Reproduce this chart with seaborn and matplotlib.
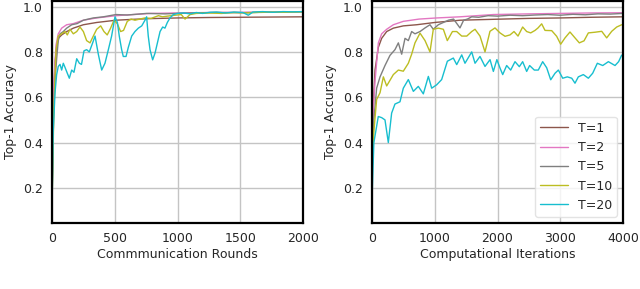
import numpy as np
import pandas as pd
import matplotlib
matplotlib.use("Agg")
import matplotlib.pyplot as plt
import seaborn as sns

# ---------------- data ----------------
labels = ["T=1", "T=2", "T=5", "T=10", "T=20"]
colors = ["#8c564b", "#e377c2", "#7f7f7f", "#bcbd22", "#17becf"]

# Left panel: communication rounds
rounds_T1 = [0, 10, 25, 37, 50, 77, 117, 170, 250, 356, 510, 650, 781, 1000, 1250, 1500, 1750, 2000]
accr_T1 = [0.12, 0.55, 0.76, 0.82, 0.86, 0.875, 0.89, 0.905, 0.92, 0.93, 0.94, 0.944, 0.947, 0.95, 0.952, 0.953, 0.954, 0.955]

rounds_T2 = [0, 8, 16, 32, 50, 77, 117, 170, 250, 356, 510, 650, 781, 1000, 1250, 1500, 1750, 2000]
accr_T2 = [0.15, 0.45, 0.68, 0.83, 0.88, 0.905, 0.92, 0.925, 0.94, 0.95, 0.96, 0.965, 0.97, 0.972, 0.974, 0.975, 0.976, 0.977]

rounds_T5 = [0, 12, 25, 37, 50, 64, 90, 117, 157, 200, 250, 329, 409, 510, 600, 754, 900, 1100, 1300, 1500, 1700, 2000]
accr_T5 = [0.13, 0.5, 0.68, 0.77, 0.85, 0.88, 0.89, 0.905, 0.92, 0.925, 0.94, 0.95, 0.955, 0.965, 0.963, 0.97, 0.968, 0.972, 0.974, 0.973, 0.975, 0.977]

rounds_T10 = [0, 15, 32, 50, 77, 104, 122, 143, 170, 197, 223, 250, 276, 303, 329, 356, 388, 414, 440, 467,
              494, 520, 547, 570, 600, 630, 661, 700, 740, 790, 848, 880, 920, 980, 1030, 1060, 1100, 1150,
              1250, 1350, 1450, 1550, 1650, 1750, 1850, 2000]
accr_T10 = [0.12, 0.55, 0.81, 0.87, 0.88, 0.89, 0.875, 0.90, 0.88, 0.89, 0.91, 0.89, 0.85, 0.84, 0.87, 0.90,
            0.915, 0.89, 0.875, 0.905, 0.94, 0.925, 0.89, 0.895, 0.935, 0.945, 0.94, 0.945, 0.95, 0.948, 0.96,
            0.955, 0.958, 0.962, 0.965, 0.945, 0.965, 0.97, 0.972, 0.97, 0.974, 0.972, 0.975, 0.976, 0.975, 0.977]

rounds_T20 = [0, 10, 24, 37, 50, 64, 77, 90, 105, 122, 138, 157, 175, 197, 218, 235, 255, 276, 297, 324,
              343, 369, 396, 422, 449, 475, 502, 521, 536, 555, 568, 590, 608, 635, 661, 688, 715, 741, 754,
              767, 781, 802, 821, 840, 861, 882, 900, 919, 940, 967, 1000, 1050, 1100, 1150, 1200, 1260,
              1312, 1380, 1450, 1520, 1564, 1600, 1680, 1760, 1840, 1920, 2000]
accr_T20 = [0.10, 0.45, 0.62, 0.70, 0.736, 0.745, 0.72, 0.75, 0.73, 0.706, 0.684, 0.72, 0.71, 0.77, 0.75,
            0.745, 0.805, 0.81, 0.80, 0.84, 0.87, 0.79, 0.72, 0.75, 0.81, 0.87, 0.955, 0.93, 0.87, 0.81, 0.78,
            0.78, 0.82, 0.87, 0.89, 0.905, 0.915, 0.94, 0.955, 0.87, 0.81, 0.765, 0.795, 0.84, 0.89, 0.91,
            0.905, 0.93, 0.95, 0.965, 0.97, 0.972, 0.968, 0.974, 0.97, 0.975, 0.976, 0.972, 0.976, 0.974,
            0.962, 0.976, 0.978, 0.975, 0.978, 0.977, 0.978]

# Right panel: computational iterations
iters_T1 = [0, 20, 48, 101, 154, 234, 340, 499, 712, 1000, 1402, 1934, 2500, 3000, 3500, 4000]
acci_T1 = [0.35, 0.55, 0.72, 0.82, 0.86, 0.89, 0.905, 0.915, 0.92, 0.93, 0.94, 0.944, 0.948, 0.95, 0.953, 0.955]

iters_T2 = [0, 20, 48, 101, 154, 234, 340, 499, 750, 1031, 1400, 1934, 2500, 3000, 3500, 4000]
acci_T2 = [0.35, 0.55, 0.67, 0.84, 0.88, 0.90, 0.92, 0.935, 0.945, 0.95, 0.955, 0.965, 0.968, 0.97, 0.972, 0.973]

iters_T5 = [0, 30, 74, 128, 207, 287, 366, 420, 473, 526, 579, 632, 685, 765, 845, 924, 977, 1057, 1137,
            1217, 1300, 1402, 1460, 1520, 1589, 1700, 1850, 2000, 2200, 2400, 2600, 2800, 3000, 3200, 3400,
            3600, 3800, 4000]
acci_T5 = [0.3, 0.5, 0.64, 0.69, 0.74, 0.785, 0.81, 0.84, 0.79, 0.86, 0.85, 0.89, 0.88, 0.89, 0.906, 0.92,
           0.90, 0.92, 0.93, 0.94, 0.945, 0.906, 0.94, 0.945, 0.955, 0.953, 0.96, 0.958, 0.962, 0.96, 0.963,
           0.965, 0.962, 0.966, 0.964, 0.968, 0.967, 0.97]

iters_T10 = [0, 30, 74, 128, 181, 234, 340, 420, 499, 579, 632, 685, 765, 845, 924, 977, 1057, 1137, 1200,
             1282, 1350, 1430, 1510, 1589, 1642, 1721, 1801, 1880, 1960, 2040, 2120, 2199, 2263, 2327, 2401,
             2465, 2529, 2598, 2646, 2704, 2757, 2864, 2943, 3007, 3076, 3155, 3235, 3304, 3379, 3448, 3554,
             3661, 3740, 3820, 3900, 3979]
acci_T10 = [0.27, 0.45, 0.59, 0.62, 0.69, 0.65, 0.70, 0.72, 0.715, 0.75, 0.79, 0.84, 0.883, 0.85, 0.80, 0.90,
            0.905, 0.90, 0.85, 0.89, 0.89, 0.87, 0.87, 0.89, 0.90, 0.87, 0.80, 0.891, 0.906, 0.884, 0.869,
            0.875, 0.89, 0.87, 0.91, 0.89, 0.884, 0.895, 0.906, 0.924, 0.895, 0.894, 0.869, 0.834, 0.862,
            0.888, 0.862, 0.84, 0.849, 0.884, 0.887, 0.891, 0.862, 0.891, 0.91, 0.92]

iters_T20 = [0, 30, 100, 154, 207, 260, 313, 366, 446, 499, 579, 659, 738, 818, 898, 951, 1031, 1110, 1201,
             1296, 1350, 1430, 1482, 1589, 1642, 1721, 1801, 1881, 1934, 1990, 2040, 2083, 2146, 2210, 2279,
             2348, 2401, 2465, 2512, 2587, 2650, 2720, 2784, 2848, 2917, 2970, 3039, 3113, 3183, 3235, 3288,
             3368, 3448, 3517, 3591, 3677, 3767, 3873, 3930, 3979]
acci_T20 = [0.15, 0.40, 0.515, 0.51, 0.50, 0.40, 0.53, 0.57, 0.58, 0.64, 0.678, 0.626, 0.648, 0.615, 0.692,
            0.64, 0.655, 0.678, 0.759, 0.773, 0.744, 0.787, 0.75, 0.80, 0.75, 0.78, 0.736, 0.766, 0.714,
            0.766, 0.729, 0.70, 0.74, 0.72, 0.757, 0.735, 0.757, 0.714, 0.74, 0.72, 0.72, 0.757, 0.73, 0.677,
            0.706, 0.72, 0.684, 0.69, 0.684, 0.662, 0.69, 0.70, 0.684, 0.706, 0.75, 0.74, 0.757, 0.74, 0.757,
            0.786]

x_ticks_left = [0, 500, 1000, 1500, 2000]
x_ticks_right = [0, 1000, 2000, 3000, 4000]
y_ticks = [0.2, 0.4, 0.6, 0.8, 1.0]


def long_frame(xs, ys):
    rows = []
    for lab, xv, yv in zip(labels, xs, ys):
        for a, b in zip(xv, yv):
            rows.append((lab, a, b))
    return pd.DataFrame(rows, columns=["T", "x", "acc"])


df_left = long_frame([rounds_T1, rounds_T2, rounds_T5, rounds_T10, rounds_T20],
                     [accr_T1, accr_T2, accr_T5, accr_T10, accr_T20])
df_right = long_frame([iters_T1, iters_T2, iters_T5, iters_T10, iters_T20],
                      [acci_T1, acci_T2, acci_T5, acci_T10, acci_T20])

# ---------------- plotting ----------------
sns.set_style("whitegrid", {"axes.edgecolor": "black", "grid.color": "#c4c4c4"})
plt.rcParams["font.family"] = ["DejaVu Sans"]
plt.rcParams["font.size"] = 9

fig = plt.figure(figsize=(6.4, 2.89), dpi=100)
ax1 = fig.add_axes([52 / 640, 66 / 289, 251 / 640, 222.5 / 289])
ax2 = fig.add_axes([372 / 640, 66 / 289, 251 / 640, 222.5 / 289])
palette = dict(zip(labels, colors))

for ax, df, xt, xlab, xmax in [
    (ax1, df_left, x_ticks_left, "Commmunication Rounds", 2000),
    (ax2, df_right, x_ticks_right, "Computational Iterations", 4000),
]:
    sns.lineplot(data=df, x="x", y="acc", hue="T", hue_order=labels, palette=palette,
                 estimator=None, sort=False, linewidth=1.0, ax=ax, legend=(ax is ax2))
    ax.set_xlim(0, xmax)
    ax.set_ylim(0.045, 1.027)
    ax.set_xticks(xt)
    ax.set_yticks(y_ticks)
    ax.set_xlabel(xlab, fontsize=9, labelpad=2)
    ax.set_ylabel("Top-1 Accuracy", fontsize=9, labelpad=4)
    ax.tick_params(labelsize=9, pad=3)
    ax.grid(True, color="#c4c4c4", linewidth=1.0)
    for s in ax.spines.values():
        s.set_linewidth(1.6)
        s.set_color("black")

leg = ax2.legend(loc="lower right", fontsize=9, frameon=True, handlelength=2.2)
leg.get_frame().set_edgecolor("#dddddd")

fig.savefig("out.png", dpi=100)
